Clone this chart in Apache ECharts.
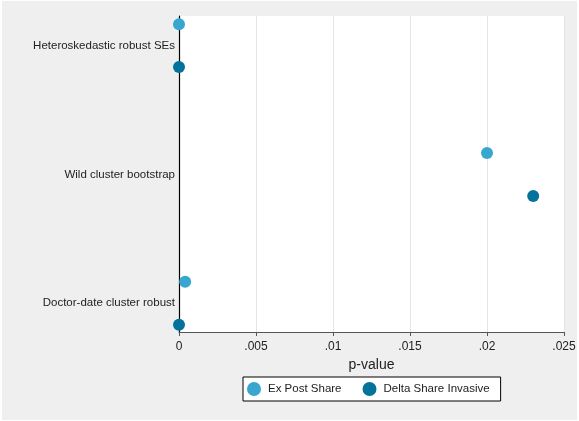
<!DOCTYPE html>
<html>
<head>
<meta charset="utf-8">
<script src="https://cdn.jsdelivr.net/npm/echarts@6/dist/echarts.min.js"></script>
<style>
  html, body { margin: 0; padding: 0; background: #ffffff; }
  #chart { width: 579px; height: 421px; }
</style>
</head>
<body>
<div id="chart"></div>
<script>
// Estimation methods (top to bottom) and their row positions
const methods = ['Heteroskedastic robust SEs', 'Wild cluster bootstrap', 'Doctor-date cluster robust'];
const methodRows = [0.5, 3.5, 6.5];
// Marker rows for each series within the method groups
const exPostRows = [0, 3, 6];
const deltaRows = [1, 4, 7];
// p-values
const exPostShare = [0.0000, 0.0200, 0.0004];
const deltaShareInvasive = [0.0000, 0.0230, 0.0000];
const xTicks = [0, 0.005, 0.01, 0.015, 0.02, 0.025];

const fontFamily = '"Liberation Sans", Arial, Helvetica, sans-serif';
const lightBlue = '#38a6cf';
const darkBlue = '#03739c';

function fmt(v) {
  if (v === 0) return '0';
  return String(+v.toFixed(3)).replace(/^0/, '');
}

const chart = echarts.init(document.getElementById('chart'), null, { renderer: 'canvas' });
chart.setOption({
  backgroundColor: '#ffffff',
  animation: false,
  graphic: [
    { type: 'rect', z: -10, silent: true, shape: { x: 2, y: 1, width: 575, height: 419 }, style: { fill: '#efefef' } }
  ],
  grid: { left: 179, top: 16, width: 385, height: 316, backgroundColor: '#ffffff', show: true, borderWidth: 0 },
  xAxis: {
    type: 'value',
    position: 'bottom',
    min: xTicks[0], max: xTicks[xTicks.length - 1], interval: 0.005,
    name: 'p-value',
    nameLocation: 'middle',
    nameGap: 21,
    nameTextStyle: { fontFamily, fontSize: 14, color: '#222' },
    axisLine: { show: true, onZero: false, lineStyle: { color: '#555', width: 1.2 } },
    axisTick: { show: true, length: 4, lineStyle: { color: '#555' } },
    axisLabel: { fontFamily, fontSize: 12, color: '#222', margin: 9, formatter: fmt, showMinLabel: true, showMaxLabel: true },
    splitLine: { show: true, lineStyle: { color: '#e4e4e4', width: 1 } }
  },
  yAxis: {
    type: 'value',
    inverse: true,
    min: -0.19, max: 7.17,
    axisLine: { show: true, onZero: false, lineStyle: { color: '#000', width: 1.2 } },
    axisTick: { show: false },
    splitLine: { show: false },
    axisLabel: {
      fontFamily, fontSize: 11.5, color: '#222', margin: 4,
      customValues: methodRows,
      formatter: v => methods[methodRows.indexOf(v)] || ''
    }
  },
  legend: {
    data: ['Ex Post Share', 'Delta Share Invasive'],
    left: 243, top: 377,
    itemGap: 21,
    padding: [5, 11, 5, 4],
    backgroundColor: '#ffffff',
    borderColor: '#000',
    borderWidth: 1,
    borderRadius: 0,
    itemWidth: 14, itemHeight: 14,
    icon: 'circle',
    textStyle: { fontFamily, fontSize: 11.5, color: '#222', padding: [0, 0, 0, 2] }
  },
  series: [
    {
      name: 'Ex Post Share',
      type: 'scatter',
      symbolSize: 12,
      itemStyle: { color: lightBlue, opacity: 1 },
      data: exPostShare.map((v, i) => [v, exPostRows[i]]),
      clip: false
    },
    {
      name: 'Delta Share Invasive',
      type: 'scatter',
      symbolSize: 12,
      itemStyle: { color: darkBlue, opacity: 1 },
      data: deltaShareInvasive.map((v, i) => [v, deltaRows[i]]),
      clip: false
    }
  ]
});
</script>
</body>
</html>
